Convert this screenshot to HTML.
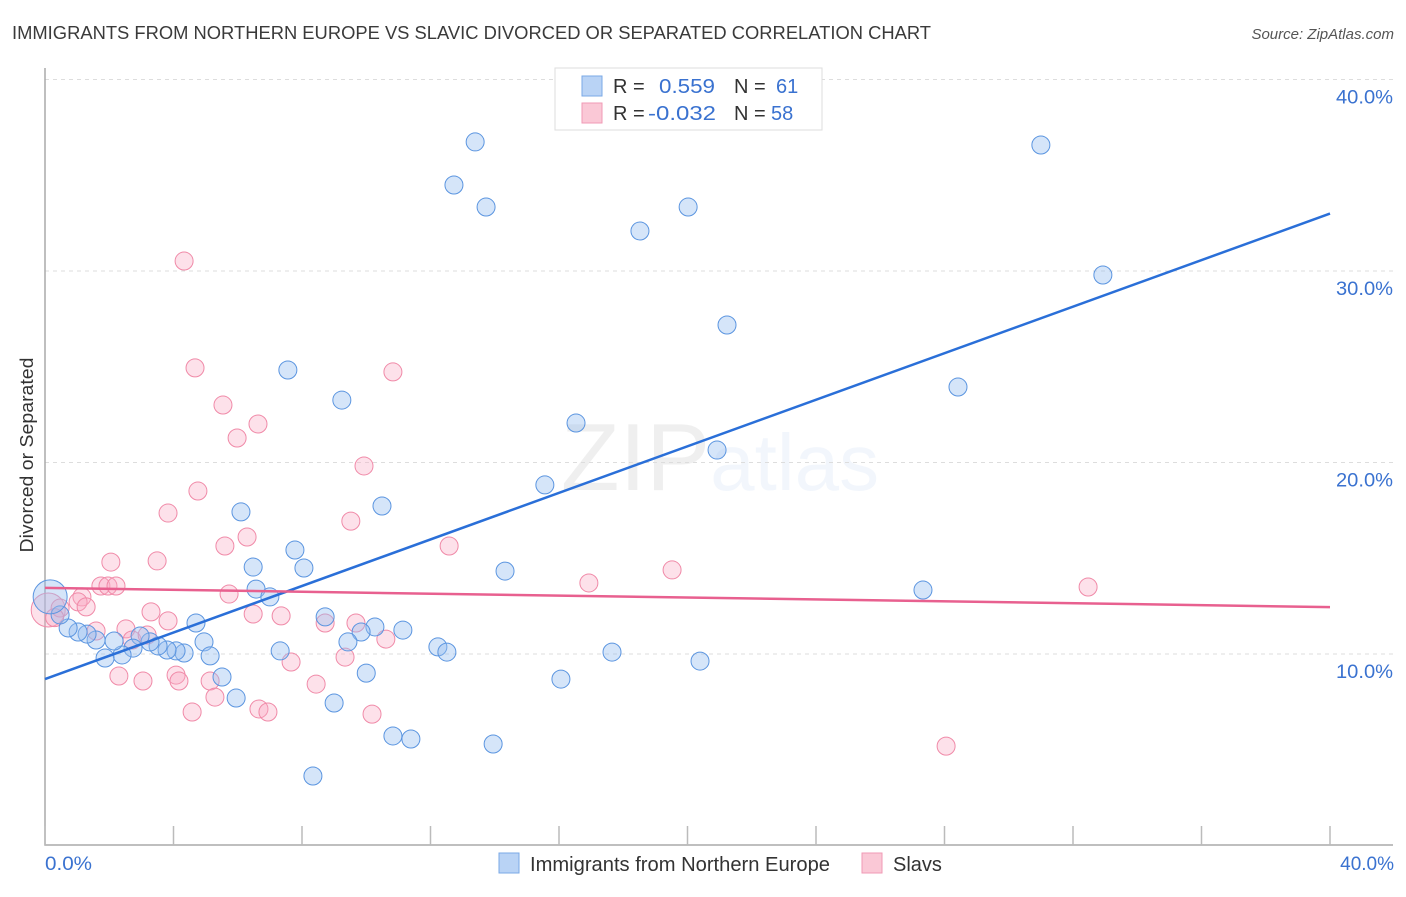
<!DOCTYPE html>
<html><head><meta charset="utf-8"><style>
body{margin:0;background:#fff;font-family:"Liberation Sans",sans-serif}
svg text{font-family:"Liberation Sans",sans-serif}
</style></head><body>
<svg id="chart" width="1406" height="892" xmlns="http://www.w3.org/2000/svg">
<text x="12" y="39" font-size="18" fill="#3a3a3a" textLength="919" lengthAdjust="spacingAndGlyphs">IMMIGRANTS FROM NORTHERN EUROPE VS SLAVIC DIVORCED OR SEPARATED CORRELATION CHART</text>
<text x="1394" y="39" font-size="15" fill="#555" text-anchor="end" font-style="italic">Source: ZipAtlas.com</text>
<text x="720" y="490" font-size="96" text-anchor="middle" fill="#000" opacity="0.06" font-family="Liberation Serif">ZIP<tspan fill="#3a7bd5" opacity="1" font-family="Liberation Sans" font-size="80">atlas</tspan></text>
<g id="grid"></g>
<g id="axes"></g>
<g id="points"></g>
<g id="lines"></g>
<text transform="translate(33,455) rotate(-90)" font-size="18" fill="#333" text-anchor="middle" textLength="195" lengthAdjust="spacingAndGlyphs">Divorced or Separated</text>
<text x="45" y="870" font-size="19" fill="#3a72d0" textLength="47" lengthAdjust="spacingAndGlyphs">0.0%</text>
<text x="1394" y="870" font-size="19" fill="#3a72d0" text-anchor="end">40.0%</text>
<g>
<rect x="555" y="68" width="267" height="62" fill="#fff" stroke="#ddd"/>
<rect x="582" y="76" width="20" height="20" fill="#b9d3f5" stroke="#7aa8e6"/>
<rect x="582" y="103" width="20" height="20" fill="#fac8d6" stroke="#f09ab5"/>
<text x="613" y="93" font-size="20" fill="#333">R = <tspan fill="#3a72d0" x="659" textLength="56" lengthAdjust="spacingAndGlyphs">0.559</tspan><tspan x="734" fill="#333">N = </tspan><tspan fill="#3a72d0" x="776">61</tspan></text>
<text x="613" y="120" font-size="20" fill="#333">R = <tspan fill="#3a72d0" x="648" textLength="68" lengthAdjust="spacingAndGlyphs">-0.032</tspan><tspan x="734" fill="#333">N = </tspan><tspan fill="#3a72d0" x="771">58</tspan></text>
</g>
<g>
<rect x="499" y="853" width="20" height="20" fill="#b9d3f5" stroke="#7aa8e6"/>
<text x="530" y="871" font-size="20" fill="#333" textLength="300" lengthAdjust="spacingAndGlyphs">Immigrants from Northern Europe</text>
<rect x="862" y="853" width="20" height="20" fill="#fac8d6" stroke="#f09ab5"/>
<text x="893" y="871" font-size="20" fill="#333">Slavs</text>
</g>
</svg>
<script>
const yTicks=[10,20,30,40];
const yTickLabels=["10.0%","20.0%","30.0%","40.0%"];
const xTicks=[0,4,8,12,16,20,24,28,32,36,40];
const blueX=[13.39,12.73,13.73,18.52,20.02,31.0,32.93,21.23,28.42,7.56,9.24,16.53,20.92,15.56,10.49,6.10,7.78,6.48,8.06,14.32,6.57,7.0,27.33,8.72,4.70,10.27,9.84,11.14,9.43,4.95,12.23,12.51,7.32,17.65,20.39,10.0,16.06,5.51,5.95,9.0,10.83,11.39,13.95,8.34,5.14,4.33,4.08,3.80,3.52,3.27,2.96,2.74,2.40,1.87,2.15,1.59,1.31,1.03,0.72,0.47,0.16];
const blueY=[36.74,34.49,33.34,32.09,33.34,36.58,29.79,27.18,23.94,24.83,23.26,22.06,20.65,18.83,17.73,17.42,15.43,14.54,14.49,14.33,13.39,12.98,13.34,11.94,11.62,11.41,11.15,11.25,10.63,10.63,10.37,10.10,10.16,10.10,9.63,9.0,8.69,8.80,7.70,7.44,5.72,5.56,5.30,3.63,9.90,10.05,10.16,10.21,10.42,10.63,10.94,10.31,9.95,9.79,10.68,10.73,11.04,11.15,11.36,12.04,12.98];
const pinkX=[4.33,4.67,10.83,5.54,6.63,5.98,9.93,4.76,3.83,9.52,6.29,5.60,12.58,2.05,3.49,19.52,16.93,32.47,1.74,1.96,2.21,5.73,1.15,1.03,1.28,3.30,6.48,7.35,3.83,9.68,8.72,2.52,1.59,2.71,3.18,10.61,9.34,7.66,2.30,3.05,4.08,4.17,5.14,8.44,5.29,4.58,6.66,6.94,10.18,28.05,0.1,0.47,0.3];
const pinkY=[30.52,24.94,24.73,23.0,22.01,21.28,19.82,18.51,17.36,16.94,16.11,15.64,15.64,14.80,14.86,14.39,13.71,13.50,13.55,13.55,13.55,13.13,12.98,12.72,12.46,12.20,12.09,11.99,11.73,11.62,11.62,11.31,11.20,10.73,10.99,10.78,9.84,9.58,8.85,8.59,8.90,8.59,8.59,8.43,7.75,6.97,7.13,6.97,6.86,5.19,12.3,12.4,11.9];
const blueLine=[8.69,33.0];
const pinkLine=[13.45,12.45];
const NS="http://www.w3.org/2000/svg";
const X=v=>45+v/40*1285, Y=v=>845.5-v*19.15;
function mk(t,a,p){const e=document.createElementNS(NS,t);for(const k in a)e.setAttribute(k,a[k]);p.appendChild(e);return e;}
const grid=document.getElementById('grid'),axes=document.getElementById('axes'),pts=document.getElementById('points'),lines=document.getElementById('lines');
yTicks.forEach((t,i)=>{
 const l=mk('line',{x1:45,x2:1393,y1:Y(t),y2:Y(t),stroke:'#ddd','stroke-dasharray':'4,4'},grid);
 
 
 const tx=mk('text',{x:1393,y:Y(t)+24,'font-size':19.5,fill:'#3a72d0','text-anchor':'end',textLength:57,lengthAdjust:'spacingAndGlyphs'},grid);
 tx.textContent=yTickLabels[i];
 
 
});
const ax=mk('path',{d:'M45,68 V845 H1393',fill:'none',stroke:'#aaa','stroke-width':1.5},axes);


xTicks.forEach(t=>{
 const l=mk('line',{x1:X(t),x2:X(t),y1:826,y2:845,stroke:'#bbb','stroke-width':1.5},axes);
 
 
});
function dots(xs,ys,fill,stroke,name){xs.forEach((x,i)=>{
 const r=(x<0.2)?17:9;
 const c=mk('circle',{cx:X(x),cy:Y(ys[i]),r:r,fill:fill,stroke:stroke,'stroke-width':1},pts);
 
 
});}
dots(pinkX,pinkY,'rgba(248,170,195,0.35)','#f08aa8','pink-point');
dots(blueX,blueY,'rgba(150,190,240,0.4)','#5b95e0','blue-point');
const bl=mk('line',{x1:X(0),y1:Y(blueLine[0]),x2:X(40),y2:Y(blueLine[1]),stroke:'#2a6fd8','stroke-width':2.5},lines);


const pl=mk('line',{x1:X(0),y1:Y(pinkLine[0]),x2:X(40),y2:Y(pinkLine[1]),stroke:'#e8608f','stroke-width':2.5},lines);


</script>
</body></html>
